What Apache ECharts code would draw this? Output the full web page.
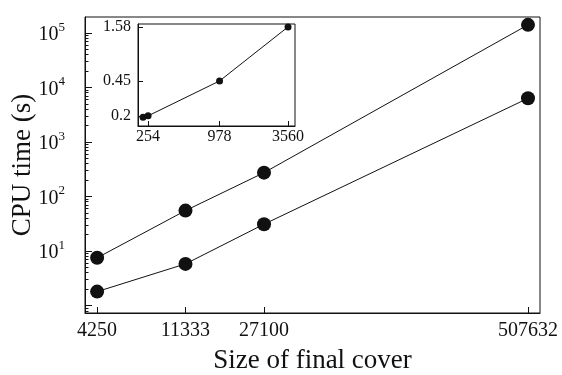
<!DOCTYPE html>
<html>
<head>
<meta charset="utf-8">
<script src="https://cdn.jsdelivr.net/npm/echarts@6/dist/echarts.min.js"></script>
<style>
  html, body { margin: 0; padding: 0; background: #fff; }
  #chart { width: 562px; height: 375px; }
</style>
</head>
<body>
<div id="chart"></div>
<script>
// main plot: size of final cover vs CPU time (log-log)
const coverSizes = [4250, 11333, 27100, 507632];
const upperTimes = [7.5, 55, 273, 140000];
const lowerTimes = [1.8, 5.8, 31, 6300];

// inset
const insetSizes = [231, 254, 978, 3560];
const insetTimes = [0.194, 0.2, 0.45, 1.58];
const insetXTicks = [254, 978, 3560];
const insetYTicks = [0.2, 0.45, 1.58];

// y tick positions of the main plot
const yMajorTicks = [1, 10, 100, 1000, 10000, 100000];
const yMinorTicks = [0.8, 0.9];
for (let p = 0; p < 5; p++) {
    for (let m = 2; m < 10; m++) yMinorTicks.push(m * Math.pow(10, p));
}

const font = 'Liberation Serif';
const ink = '#111';

const myChart = echarts.init(document.getElementById('chart'));

const pairs = (xs, ys) => xs.map((x, i) => [x, ys[i]]);

const option = {
    backgroundColor: '#fff',
    animation: false,
    grid: [
        { left: 85, right: 22, top: 17, bottom: 62, outerBoundsMode: 'none', containLabel: false, show: true, borderColor: ink, borderWidth: 1, backgroundColor: 'transparent' },
        { left: 138, top: 24, width: 157, height: 102, outerBoundsMode: 'none', containLabel: false, show: true, borderColor: ink, borderWidth: 1, backgroundColor: '#fff', z: 5 }
    ],
    xAxis: [
        {
            type: 'log',
            gridIndex: 0,
            min: 3715,
            max: 580000,
            name: 'Size of final cover',
            nameLocation: 'middle',
            nameGap: 34,
            nameMoveOverlap: false,
            nameTextStyle: { fontFamily: font, fontSize: 27, color: ink },
            axisLine: { show: true, lineStyle: { color: ink } },
            axisTick: { show: true, inside: true, length: 6, customValues: coverSizes, lineStyle: { color: ink } },
            axisLabel: { customValues: coverSizes, fontFamily: font, fontSize: 20, color: ink, margin: 8, formatter: v => String(v) },
            splitLine: { show: false }
        },
        {
            type: 'log',
            gridIndex: 1,
            min: 210,
            max: 4060,
            z: 6,
            axisLine: { show: true, lineStyle: { color: ink } },
            axisTick: { show: true, inside: true, length: 5, customValues: insetXTicks, lineStyle: { color: ink } },
            axisLabel: { customValues: insetXTicks, fontFamily: font, fontSize: 16, color: ink, margin: 3, formatter: v => String(v) },
            splitLine: { show: false }
        }
    ],
    yAxis: [
        {
            type: 'log',
            gridIndex: 0,
            min: 0.73,
            max: 195000,
            name: 'CPU time (s)',
            nameLocation: 'middle',
            nameGap: 49,
            nameMoveOverlap: false,
            nameTextStyle: { fontFamily: font, fontSize: 27, color: ink },
            axisLine: { show: true, lineStyle: { color: ink } },
            axisTick: { show: true, inside: true, length: 7, customValues: yMajorTicks, lineStyle: { color: ink } },
            axisLabel: {
                customValues: yMajorTicks.slice(1),
                margin: 20,
                formatter: v => '{b|10}{s|' + Math.round(Math.log10(v)) + '}',
                rich: {
                    b: { fontFamily: font, fontSize: 20, color: ink, lineHeight: 24, verticalAlign: 'bottom' },
                    s: { fontFamily: font, fontSize: 13, color: ink, lineHeight: 14, verticalAlign: 'top' }
                }
            },
            splitLine: { show: false }
        },
        {
            type: 'log',
            gridIndex: 0,
            min: 0.73,
            max: 195000,
            position: 'left',
            axisLine: { show: false },
            axisTick: { show: true, inside: true, length: 3.5, customValues: yMinorTicks, lineStyle: { color: ink } },
            axisLabel: { show: false },
            splitLine: { show: false }
        },
        {
            type: 'log',
            gridIndex: 1,
            min: 0.158,
            max: 1.69,
            z: 6,
            axisLine: { show: true, lineStyle: { color: ink } },
            axisTick: { show: true, inside: true, length: 5, customValues: insetYTicks, lineStyle: { color: ink } },
            axisLabel: { customValues: insetYTicks, fontFamily: font, fontSize: 16, color: ink, margin: 7, formatter: v => String(v) },
            splitLine: { show: false }
        }
    ],
    series: [
        {
            type: 'line',
            xAxisIndex: 0,
            yAxisIndex: 0,
            data: pairs(coverSizes, upperTimes),
            symbol: 'circle',
            symbolSize: 14,
            itemStyle: { color: ink },
            lineStyle: { color: ink, width: 1 }
        },
        {
            type: 'line',
            xAxisIndex: 0,
            yAxisIndex: 0,
            data: pairs(coverSizes, lowerTimes),
            symbol: 'circle',
            symbolSize: 14,
            itemStyle: { color: ink },
            lineStyle: { color: ink, width: 1 }
        },
        {
            type: 'line',
            xAxisIndex: 1,
            yAxisIndex: 2,
            z: 10,
            data: pairs(insetSizes, insetTimes),
            symbol: 'circle',
            symbolSize: 7,
            itemStyle: { color: ink },
            lineStyle: { color: ink, width: 1 }
        }
    ]
};

myChart.setOption(option);
</script>
</body>
</html>
